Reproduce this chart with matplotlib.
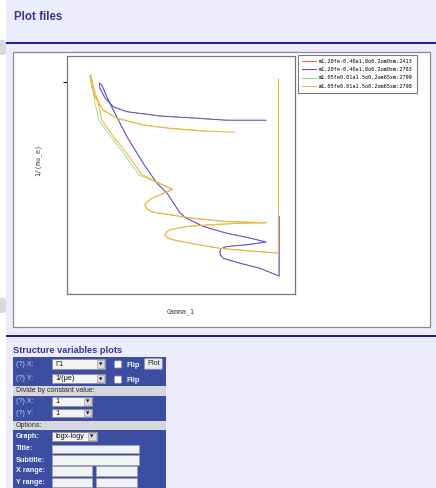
import matplotlib
matplotlib.use("Agg")
import matplotlib.pyplot as plt
from matplotlib.patches import Rectangle, FancyBboxPatch
from matplotlib.ticker import NullLocator

W, H = 436, 488  # screenshot size in pixels

# Gamma_1 against 1/mu_e for the four models
blue_gamma = [1.670, 1.670, 1.615, 1.560, 1.515, 1.507, 1.506, 1.508, 1.524, 1.578,
              1.632, 1.587, 1.524, 1.463, 1.421, 1.405, 1.373, 1.349, 1.317, 1.280,
              1.250, 1.236, 1.225, 1.220, 1.221, 1.232, 1.250, 1.280, 1.357, 1.437,
              1.524, 1.632]
blue_inv_mu = [0.521, 0.391, 0.406, 0.416, 0.426, 0.433, 0.440, 0.446, 0.451, 0.455,
               0.461, 0.470, 0.481, 0.497, 0.517, 0.530, 0.584, 0.613, 0.675, 0.768,
               0.873, 0.931, 0.986, 0.994, 0.971, 0.926, 0.887, 0.866, 0.848, 0.840,
               0.831, 0.831]

# the red model lies under the blue one
red_gamma = list(blue_gamma)
red_inv_mu = list(blue_inv_mu)

orange_gamma = [1.546, 1.463, 1.380, 1.317, 1.258, 1.228, 1.211, 1.204, 1.202, 1.208,
                1.218, 1.225, 1.250, 1.280, 1.314, 1.349, 1.384, 1.357, 1.340, 1.326,
                1.321, 1.325, 1.338, 1.380, 1.437, 1.524, 1.634, 1.560, 1.480, 1.421,
                1.380, 1.372, 1.368, 1.374, 1.388, 1.437, 1.506, 1.578, 1.668, 1.668]
orange_inv_mu = [0.784, 0.789, 0.799, 0.812, 0.839, 0.873, 0.931, 0.977, 1.034, 0.977,
                 0.902, 0.832, 0.768, 0.708, 0.638, 0.617, 0.595, 0.579, 0.571, 0.560,
                 0.552, 0.542, 0.533, 0.526, 0.517, 0.509, 0.506, 0.505, 0.501, 0.497,
                 0.489, 0.484, 0.477, 0.470, 0.466, 0.457, 0.447, 0.442, 0.437, 1.015]

green_gamma = [1.470, 1.380, 1.317, 1.258, 1.228, 1.211, 1.204, 1.200, 1.2055, 1.211,
               1.219, 1.244, 1.273, 1.307, 1.349, 1.388, 1.357, 1.340, 1.326,
               1.321, 1.325, 1.338, 1.380, 1.437, 1.524, 1.634, 1.560, 1.480, 1.421,
               1.380, 1.372, 1.368, 1.374, 1.388, 1.437, 1.506, 1.578, 1.668, 1.668]
green_inv_mu = [0.788, 0.799, 0.812, 0.839, 0.873, 0.931, 0.977, 1.034, 0.977, 0.902,
                0.832, 0.768, 0.708, 0.638, 0.614, 0.595, 0.579, 0.571, 0.560,
                0.552, 0.542, 0.533, 0.526, 0.517, 0.509, 0.506, 0.505, 0.501, 0.497,
                0.489, 0.484, 0.477, 0.470, 0.466, 0.457, 0.447, 0.442, 0.437, 0.971]

labels = ["m1.20fe-0.40a1.8o0.2om0sm:2413",
          "m1.20fe-0.40a1.8o0.2om0sm:2783",
          "m1.05fe0.01a1.5o0.2om65sm:2799",
          "m1.05fe0.01a1.5o0.2om65sm:2798"]
colors = ["#ff5a5a", "#5858e0", "#84e084", "#ffad30"]
widths = [0.45, 0.75, 0.6, 0.75]

XLIM = (1.153, 1.717)
YLIM = (10 ** -0.4455, 10 ** 0.0545)

PAGE_BG = "#ececfc"
NAVY = "#1e1e96"
TITLE_C = "#35359c"
FORM_BLUE = "#3c4ea2"
FORM_GRAY = "#d6d6de"
SANS = "Liberation Sans"

fig = plt.figure(figsize=(W / 100, H / 100), dpi=100, facecolor="white")

# page layer in pixel coordinates
page = fig.add_axes([0, 0, 1, 1])
page.set_xlim(0, W)
page.set_ylim(H, 0)
page.axis("off")


def rect(x0, y0, x1, y1, fc, ec="none", lw=0.0):
    page.add_patch(Rectangle((x0, y0), x1 - x0, y1 - y0, fc=fc, ec=ec, lw=lw))


def rbox(x0, y0, x1, y1, fc, ec, lw=0.6, r=1.2):
    page.add_patch(FancyBboxPatch((x0, y0), x1 - x0, y1 - y0,
                                  boxstyle=f"round,pad=0,rounding_size={r}",
                                  fc=fc, ec=ec, lw=lw))


def select(x0, x1, y0, y1, text):
    rect(x0, y0, x1, y1, "#f4f4f4", "#8e8e9e", 0.6)
    bx = x1 - 8.3
    rect(bx, y0 + 1, x1 - 1, y1 - 1, "#dadada", "#a4a4a4", 0.5)
    page.text(bx + 3.6, (y0 + y1) / 2 + 0.3, "\u25bc", fontsize=3.2,
              family="DejaVu Sans", ha="center", va="center", color="#111111")
    page.text(x0 + 3.5, (y0 + y1) / 2, text, fontsize=5.2, family=SANS,
              ha="left", va="center", color="#111111")


def textbox(x0, x1, y0, y1):
    rect(x0, y0, x1, y1, "#f2f2f4", "#a0a0b4", 0.6)


def label(y, s, bold=False):
    page.text(16, y, s, fontsize=5.2 if bold else 5.1, family=SANS,
              fontweight="bold" if bold else "normal", ha="left", va="center",
              color="#f4f4ff" if bold else "#c6cef6")


# background and header
rect(6, 0, W, H, PAGE_BG)
rect(6, 42, W, 43.6, NAVY)
page.text(14, 17.5, "Plot files", fontsize=8.3, family=SANS, fontweight="bold",
          color=TITLE_C, ha="left", va="center")
rbox(-3, 40, 6, 55, "#d9d9e2", "none", r=3)
rbox(-3, 298, 6, 313, "#d9d9e2", "none", r=3)

# white panel holding the plot
rect(13, 51.5, 430, 327, "white", "#8a8a8a", 0.9)
rect(6, 335, W, 337, NAVY)

# structure variables form
page.text(13.3, 350.5, "Structure variables plots", fontsize=6.7, family=SANS,
          fontweight="bold", color=TITLE_C, ha="left", va="center")
rect(12.7, 357.3, 165.7, H, FORM_BLUE)
rect(12.7, 386.2, 165.7, 395.5, FORM_GRAY)
rect(12.7, 420.8, 165.7, 430.0, FORM_GRAY)
page.text(16, 390.9, "Divide by constant value:", fontsize=5.0, family=SANS,
          color="#2a2a2a", ha="left", va="center")
page.text(16, 425.5, "Options:", fontsize=5.0, family=SANS,
          color="#2a2a2a", ha="left", va="center")

label(364.2, "(?) X:")
select(51.7, 105, 359.3, 369.0, "\u03931")
rbox(114.3, 360.8, 121.7, 368.0, "white", "#8a8a9a")
page.text(126.7, 365.6, "Flip", fontsize=5.4, family=SANS, fontweight="bold",
          color="#f4f4ff", ha="left", va="center")
rbox(144.5, 358.6, 162.3, 369.2, "#ececf0", "#9a9aa8", r=1.0)
page.text(153.4, 363.9, "Plot", fontsize=5.3, family=SANS, color="#222222",
          ha="center", va="center")

label(378.8, "(?) Y:")
select(51.7, 105, 374.3, 383.3, "1/(\u03bce)")
rbox(114.3, 376.0, 121.7, 383.3, "white", "#8a8a9a")
page.text(126.7, 380.7, "Flip", fontsize=5.4, family=SANS, fontweight="bold",
          color="#f4f4ff", ha="left", va="center")

label(401.7, "(?) X:")
select(51.7, 92.3, 397.3, 406.0, "1")
label(413.2, "(?) Y:")
select(51.7, 92.3, 409.0, 417.3, "1")

label(436.4, "Graph:", bold=True)
select(51.7, 96.7, 432.0, 440.7, "logx-logy")
label(449.0, "Title:", bold=True)
textbox(51.7, 139.3, 444.7, 453.3)
label(460.0, "Subtitle:", bold=True)
textbox(51.7, 139.3, 455.3, 464.7)
label(471.0, "X range:", bold=True)
textbox(51.7, 92.3, 466.3, 475.7)
textbox(95.7, 136.7, 466.3, 475.7)
label(482.2, "Y range:", bold=True)
textbox(51.7, 92.3, 477.7, 486.7)
textbox(95.7, 136.7, 477.7, 486.7)

# the plot itself
ax = fig.add_axes([67 / W, 1 - 294 / H, 228 / W, 238 / H])
ax.set_facecolor("white")
ax.set_xscale("log")
ax.set_yscale("log")

series = [(red_gamma, red_inv_mu), (blue_gamma, blue_inv_mu),
          (green_gamma, green_inv_mu), (orange_gamma, orange_inv_mu)]
for (gx, gy), c, w, lab in zip(series, colors, widths, labels):
    ax.plot(gx, gy, color=c, lw=w)

ax.set_xlim(*XLIM)
ax.set_ylim(*YLIM)
ax.set_xticks([])
ax.xaxis.set_minor_locator(NullLocator())
ax.set_yticks([1.0])
ax.set_yticklabels([""])
ax.yaxis.set_minor_locator(NullLocator())
ax.tick_params(axis="y", direction="out", length=3, width=0.8, color="black")
for sp in ax.spines.values():
    sp.set_color("#7a7a7a")
    sp.set_linewidth(0.9)

ax.set_xlabel("Gamma_1", family="DejaVu Sans Mono", fontsize=4.8, color="#333333")
ax.xaxis.set_label_coords(0.5, -0.062)
ax.set_ylabel("1/(mu_e)", family="DejaVu Sans Mono", fontsize=4.8, color="#333333")
ax.yaxis.set_label_coords(-0.115, 0.563)

# legend keys drawn at full width so every colour shows
keys = [plt.Line2D([], [], color=c, lw=0.8) for c in colors]
leg = ax.legend(keys, labels, loc="upper left",
                bbox_to_anchor=(298 / W, 1 - 55 / H), bbox_transform=fig.transFigure,
                prop={"family": "DejaVu Sans Mono", "size": 3.8},
                fancybox=False, framealpha=1, edgecolor="#7a7a7a",
                handlelength=2.65, handletextpad=0.45, labelspacing=0.59,
                borderpad=0.8, borderaxespad=0)
leg.get_frame().set_linewidth(0.8)

fig.savefig("out.png", dpi=100, facecolor=fig.get_facecolor())
